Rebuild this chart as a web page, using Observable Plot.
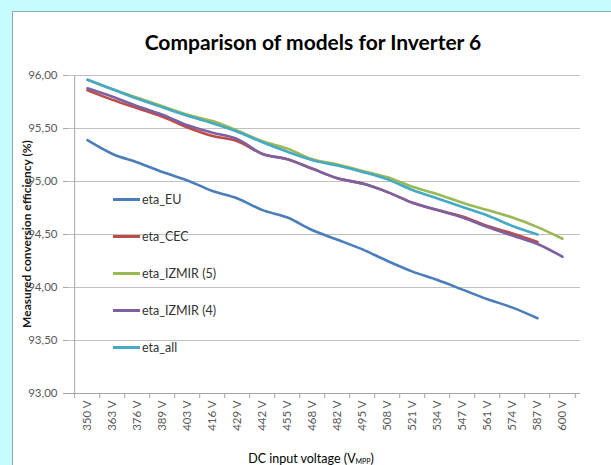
<!DOCTYPE html>
<html><head><meta charset="utf-8">
<script src="https://cdn.jsdelivr.net/npm/d3@7"></script>
<script src="https://cdn.jsdelivr.net/npm/@observablehq/plot@0.6"></script>
<style>
body{margin:0;background:#c6fcfe;}
#wrap{position:relative;width:611px;height:465px;overflow:hidden;background:#c6fcfe;font-family:Lato,"Open Sans",sans-serif;}
#panel{position:absolute;left:12px;top:11px;width:640px;height:480px;background:#fff;border:1px solid #8fa9ab;}
#chart{position:absolute;left:0;top:0;}
#title{position:absolute;left:0;width:626px;top:29px;text-align:center;font-weight:bold;font-size:21px;color:#000;}
#ytitle{position:absolute;left:26px;top:234px;transform:translate(-50%,-50%) rotate(-90deg);white-space:nowrap;font-size:12px;font-weight:bold;color:#1a1a1a;}
#xtitle{position:absolute;left:0;width:622px;top:451px;text-align:center;font-size:12.5px;color:#000;}
#xtitle sub{font-size:7px;vertical-align:-1px;}
.leg{position:absolute;left:113px;font-size:12.5px;color:#333;white-space:nowrap;line-height:14px;}
.leg span{display:inline-block;width:27px;height:3px;vertical-align:middle;margin-right:2px;position:relative;top:-1px;}
</style></head>
<body>
<div id="wrap">
<div id="panel"></div>
<div id="chart"></div>
<div id="title">Comparison of models for Inverter 6</div>
<div id="ytitle">Measured conversion efficiency (%)</div>
<div id="xtitle">DC input voltage (V<sub>MPP</sub>)</div>
<div id="legend"></div>
</div>
<script>
const voltages = ["350 V","363 V","376 V","389 V","403 V","416 V","429 V","442 V","455 V","468 V","482 V","495 V","508 V","521 V","534 V","547 V","561 V","574 V","587 V","600 V"];
const etaEU    = [95.39,95.26,95.18,95.09,95.01,94.91,94.84,94.73,94.66,94.54,94.45,94.36,94.25,94.15,94.07,93.98,93.89,93.81,93.71];
const etaCEC   = [95.86,95.77,95.69,95.61,95.51,95.43,95.38,95.26,95.21,95.12,95.03,94.98,94.90,94.80,94.73,94.67,94.58,94.51,94.43];
const etaIZMIR5= [95.96,95.87,95.79,95.71,95.63,95.57,95.48,95.38,95.31,95.21,95.16,95.10,95.04,94.95,94.88,94.80,94.73,94.66,94.57,94.46];
const etaIZMIR4= [95.88,95.80,95.71,95.63,95.53,95.46,95.40,95.26,95.21,95.12,95.03,94.98,94.90,94.80,94.73,94.66,94.57,94.49,94.41,94.29];
const etaAll   = [95.96,95.87,95.78,95.70,95.62,95.55,95.47,95.37,95.28,95.20,95.15,95.09,95.02,94.92,94.84,94.76,94.68,94.58,94.50];
const seriesNames = ["eta_EU","eta_CEC","eta_IZMIR (5)","eta_IZMIR (4)","eta_all"];
const seriesValues = [etaEU, etaCEC, etaIZMIR5, etaIZMIR4, etaAll];
const seriesColors = ["#4a7ebb","#be4b48","#98b954","#7d60a0","#46aac5"];
const yTicks = [93,93.5,94,94.5,95,95.5,96];

const W = 611, H = 465, mL = 68, mR = 31, mT = 75, mB = 72;
const step = (W - mL - mR) / voltages.length;

const rows = seriesNames.flatMap((s, k) => seriesValues[k].map((v, i) => ({series: s, voltage: voltages[i], value: v})));

const plot = Plot.plot({
  width: W, height: H, marginLeft: mL, marginRight: mR, marginTop: mT, marginBottom: mB,
  style: {background: "transparent", fontFamily: "Lato, 'Open Sans', sans-serif", color: "#595959", fontSize: "11px"},
  x: {type: "point", domain: voltages, padding: 0.5},
  y: {domain: [93, 96]},
  color: {domain: seriesNames, range: seriesColors},
  marks: [
    Plot.gridY(yTicks, {stroke: "#c0c0c0", strokeOpacity: 1, strokeWidth: 1}),
    Plot.axisY(yTicks, {tickSize: 5, tickPadding: 6, stroke: "#a6a6a6", fill: "#595959", fontSize: 11.5, label: null, tickFormat: d => d.toFixed(2).replace(".", ",")}),
    Plot.ruleX([voltages[0]], {dx: -step / 2, y1: 93, y2: 96, stroke: "#a6a6a6"}),
    Plot.ruleY([93], {stroke: "#a6a6a6"}),
    Plot.axisX({text: null, tickSize: 5, dx: -step / 2, stroke: "#a6a6a6", label: null}),
    Plot.axisX([voltages[voltages.length - 1]], {text: null, tickSize: 5, dx: step / 2, stroke: "#a6a6a6", label: null}),
    Plot.axisX({tickSize: 0, tickPadding: 7, tickRotate: -90, fill: "#595959", fontSize: 11.5, label: null}),
    Plot.line(rows, {x: "voltage", y: "value", z: "series", stroke: "series", strokeWidth: 2.6, curve: "monotone-x"})
  ]
});
document.getElementById("chart").appendChild(plot);

const legendTops = [200, 237, 274, 311, 348];
const leg = document.getElementById("legend");
seriesNames.forEach((s, k) => {
  const d = document.createElement("div");
  d.className = "leg";
  d.style.top = (legendTops[k] - 7) + "px";
  d.innerHTML = `<span style="background:${seriesColors[k]}"></span>${s}`;
  leg.appendChild(d);
});
</script>
</body></html>
